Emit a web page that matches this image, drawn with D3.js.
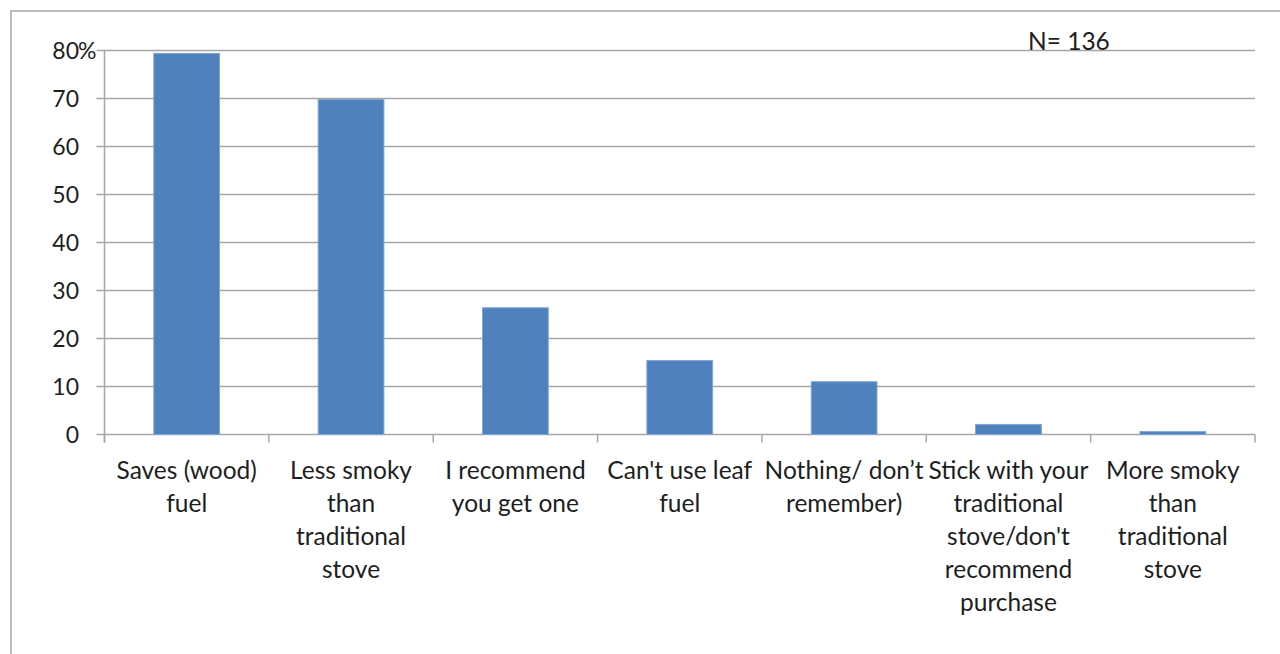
<!DOCTYPE html>
<html><head><meta charset="utf-8">
<script src="https://cdn.jsdelivr.net/npm/d3@7"></script>
<style>body{margin:0;background:#fff;} svg{display:block;}</style>
</head><body>
<svg id="c" width="1280" height="654"></svg>
<script>
const categories = [
  ["Saves (wood)","fuel"],
  ["Less smoky","than","traditional","stove"],
  ["I recommend","you get one"],
  ["Can't use leaf","fuel"],
  ["Nothing/ don\u2019t","remember)"],
  ["Stick with your","traditional","stove/don't","recommend","purchase"],
  ["More smoky","than","traditional","stove"]
];
const values = [79.4, 69.8, 26.4, 15.4, 11.0, 2.1, 0.6];
const yTicks = [0,10,20,30,40,50,60,70,80];
const note = "N= 136";

const FONT = "Lato, 'Open Sans', sans-serif";
const FS = 24.5;
const FSY = 23;
const grey = "#a6a6a6";
const textCol = "#1e1e1e";
const svg = d3.select("#c");

// outer border
svg.append("rect").attr("x",11).attr("y",11).attr("width",1400).attr("height",800)
  .attr("fill","none").attr("stroke",grey).attr("stroke-width",1.5);

const pLeft = 104.5, pRight = 1255, pTop = 50.5, pBottom = 434.5;
const x = d3.scaleBand().domain(d3.range(categories.length)).range([pLeft,pRight]).paddingInner(0.6).paddingOuter(0.3);
const xEdge = d3.scaleLinear().domain([0,categories.length]).range([pLeft,pRight]);
const y = d3.scaleLinear().domain([0,80]).range([pBottom,pTop]);

// gridlines
svg.append("g").selectAll("line").data(yTicks).join("line")
  .attr("x1",pLeft-8).attr("x2",pRight).attr("y1",d=>y(d)).attr("y2",d=>y(d))
  .attr("stroke",grey).attr("stroke-width",1.5);
// y axis line
svg.append("line").attr("x1",pLeft).attr("x2",pLeft).attr("y1",pTop).attr("y2",pBottom+8)
  .attr("stroke",grey).attr("stroke-width",1.5);
// x ticks
svg.append("g").selectAll("line").data(d3.range(categories.length+1)).join("line")
  .attr("x1",d=>xEdge(d)).attr("x2",d=>xEdge(d)).attr("y1",pBottom).attr("y2",pBottom+8)
  .attr("stroke",grey).attr("stroke-width",1.5);

// y labels
svg.append("g").selectAll("text").data(yTicks).join("text")
  .attr("x",79).attr("y",d=>y(d)).attr("dy","0.36em").attr("text-anchor","end")
  .attr("font-family",FONT).attr("font-size",FSY).attr("fill",textCol).text(d=>d);
svg.append("text").attr("x",78).attr("y",y(80)).attr("dy","0.36em")
  .attr("font-family",FONT).attr("font-size",FSY).attr("fill",textCol).text("%");

// bars
svg.append("g").selectAll("rect").data(values).join("rect")
  .attr("x",(d,i)=>x(i)).attr("width",x.bandwidth())
  .attr("y",d=>y(d)).attr("height",d=>pBottom-y(d))
  .attr("fill","#4f81bd").attr("stroke","#7fa6d6").attr("stroke-width",1);

// x labels
const xl = svg.append("g").selectAll("text").data(categories).join("text")
  .attr("text-anchor","middle").attr("font-family",FONT).attr("font-size",FS).attr("fill",textCol)
  .attr("transform",(d,i)=>`translate(${x(i)+x.bandwidth()/2},479)`);
xl.selectAll("tspan").data(d=>d).join("tspan")
  .attr("x",0).attr("y",(d,j)=>j*33).text(d=>d);

// note
svg.append("text").attr("x",1028).attr("y",50).attr("font-family",FONT).attr("font-size",FS)
  .attr("fill",textCol).text(note);
</script>
</body></html>
